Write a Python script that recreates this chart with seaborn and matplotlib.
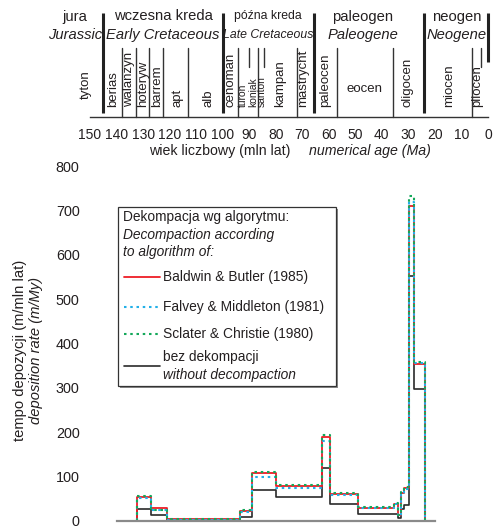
import numpy as np
import pandas as pd
import matplotlib
matplotlib.use("Agg")
import matplotlib.pyplot as plt
import seaborn as sns
from matplotlib.lines import Line2D
from matplotlib.patches import Rectangle

# ---------------- data ----------------
# step edges of deposition-rate intervals (Ma)
edges = [132.2, 127.0, 120.9, 93.5, 88.8, 79.9, 62.7, 59.5, 48.9, 35.4, 33.8, 32.9, 31.7, 29.8, 27.8, 23.7]
baldwin = [53, 30, 4, 22, 108, 78, 190, 60, 29, 39, 13, 63, 74, 709, 353]
falvey = [51, 25, 3, 21, 99, 74, 180, 59, 29, 38, 12, 60, 72, 720, 356]
sclater = [56, 25, 4, 24, 111, 81, 193, 63, 31, 41, 14, 66, 77, 733, 359]
nodecomp = [27, 13, 1, 8, 69, 54, 119, 38, 16, 16, 7, 28, 37, 552, 298]

series_names = ["Baldwin & Butler (1985)", "Falvey & Middleton (1981)",
                "Sclater & Christie (1980)"]

# geological time scale
period_bounds = [145.1, 100.0, 65.6, 24.0]
stage_bounds = [138.0, 132.8, 127.8, 122.4, 112.9, 94.2, 86.6, 72.1, 57.0, 35.9, 5.9]
stage_bounds_short = [89.9, 84.3, 2.7]
periods_pl = ["jura", "wczesna kreda", "późna kreda", "paleogen", "neogen"]
periods_en = ["Jurassic", "Early Cretaceous", "Late Cretaceous", "Paleogene", "Neogene"]
period_pos = [155.7, 122.5, 83.0, 47.1, 11.9]
stages = ["tyton", "berias", "walanżyn", "hoteryw", "barrem", "apt", "alb", "cenoman",
          "turon", "koniak", "santon", "kampan", "mastrycht", "paleocen", "oligocen",
          "miocen", "pliocen"]
stage_pos = [151.5, 141.3, 135.3, 130.0, 124.8, 117.2, 105.5, 97.2,
             92.2, 88.6, 85.3, 78.4, 69.7, 61.4, 30.2, 14.7, 4.1]
age_ticks = list(range(150, -1, -10))
rate_ticks = list(range(0, 801, 100))

# ---------------- style ----------------
sns.set_style("white")
plt.rcParams["font.family"] = ["Liberation Sans", "DejaVu Sans"]
TXT = "#231f20"
W, H = 493, 528


def fx(px):
    return px / W


def fy(py):
    return 1 - py / H


fig = plt.figure(figsize=(W / 100, H / 100), dpi=100)

# ---------------- top: time scale ----------------
axt = fig.add_axes([fx(90), fy(117), fx(488) - fx(90), fy(10) - fy(117)])
axt.set_xlim(150, 0)
axt.set_ylim(0, 107)  # units ~ pixels above the baseline
for s in ["top", "left", "right"]:
    axt.spines[s].set_visible(False)
axt.spines["bottom"].set_color("#333333")
axt.spines["bottom"].set_linewidth(1.0)
axt.set_yticks([])
axt.set_xticks(age_ticks)
axt.tick_params(axis="x", direction="out", length=6, width=1.0, color="#333333",
                pad=2.0, labelsize=10, labelcolor=TXT)
axt.set_facecolor("none")

for b in period_bounds:
    axt.plot([b, b], [4, 104], color="#222222", lw=2.2, solid_capstyle="butt", clip_on=False)
axt.plot([0, 0], [55, 104], color="#222222", lw=2.2, solid_capstyle="butt", clip_on=False)
for b in stage_bounds:
    axt.plot([b, b], [0, 69], color="#333333", lw=1.0, clip_on=False)
for b in stage_bounds_short:
    axt.plot([b, b], [50, 69], color="#333333", lw=1.0, clip_on=False)

for i, (pl, en, p) in enumerate(zip(periods_pl, periods_en, period_pos)):
    fs = 8.8 if i == 2 else 10.6
    axt.text(p, 100.5, pl, ha="center", va="center", fontsize=fs, color=TXT, clip_on=False)
    axt.text(p, 82, en, ha="center", va="center", fontsize=fs, style="italic",
             color=TXT, clip_on=False)

for s, p in zip(stages, stage_pos):
    small = s in ("turon", "koniak", "santon")
    yb = 18 if s == "tyton" else 10
    axt.text(p, yb, s, rotation=90, ha="center", va="bottom",
             fontsize=7.4 if small else 9.5, color=TXT, clip_on=False)
axt.text(46.7, 28, "eocen", ha="center", va="center", fontsize=9.5, color=TXT)

fig.text(fx(220), fy(151), "wiek liczbowy (mln lat)", ha="center", va="center",
         fontsize=10.2, color=TXT)
fig.text(fx(370), fy(151), "numerical age (Ma)", ha="center", va="center",
         fontsize=10.2, style="italic", color=TXT)

# ---------------- bottom: deposition rate ----------------
ax = fig.add_axes([fx(90), fy(521), fx(488) - fx(90), fy(166) - fy(521)])
ax.set_xlim(150, 0)
ax.set_ylim(0, 800)
ax.set_facecolor("none")


def stair(e, v):
    xs = [e[0]]
    ys = [0]
    for i, val in enumerate(v):
        xs += [e[i], e[i + 1]]
        ys += [val, val]
    xs.append(e[-1])
    ys.append(0)
    return pd.DataFrame({"age": xs, "rate": ys})


styles = [
    (nodecomp, "#2a2a2a", 1.2, "-"),
    (baldwin, "#ee1c25", 1.3, "-"),
    (falvey, "#22b0e8", 1.5, (0, (1.2, 1.8))),
    (sclater, "#14a85a", 1.5, (0, (1.2, 1.8))),
]
for vals, col, lw, ls in styles:
    d = stair(edges, vals)
    sns.lineplot(data=d, x="age", y="rate", sort=False, estimator=None, ax=ax,
                 color=col, lw=lw, linestyle=ls, legend=False)

for s in ["top", "left", "right"]:
    ax.spines[s].set_visible(False)
ax.spines["bottom"].set_color("#8a8a8a")
ax.spines["bottom"].set_linewidth(1.6)
ax.spines["bottom"].set_bounds(139.8, 20.0)
ax.set_xticks([])
ax.set_yticks(rate_ticks)
ax.set_yticklabels([f"{t}" for t in rate_ticks])
ax.tick_params(axis="y", direction="out", length=6, width=1.0, color="#333333",
               pad=1.5, labelsize=10.4, labelcolor=TXT)
ax.set_xlabel("")
ax.set_ylabel("")

fig.text(fx(20), fy(350), "tempo depozycji (m/mln lat)", rotation=90, ha="center",
         va="center", fontsize=10.6, color=TXT)
fig.text(fx(36), fy(350), "deposition rate (m/My)", rotation=90, ha="center",
         va="center", fontsize=10.6, style="italic", color=TXT)

# ---------------- legend box ----------------
lx0, lx1, ly0, ly1 = 118, 336, 207, 386
fig.add_artist(Rectangle((fx(lx0) + 2 / W, fy(ly1) - 2 / H), fx(lx1) - fx(lx0),
                         fy(ly0) - fy(ly1), transform=fig.transFigure,
                         facecolor="#8a8a8a", edgecolor="none"))
fig.add_artist(Rectangle((fx(lx0), fy(ly1)), fx(lx1) - fx(lx0), fy(ly0) - fy(ly1),
                         transform=fig.transFigure, facecolor="white",
                         edgecolor="#333333", lw=0.9))
LFS = 9.9
fig.text(fx(123), fy(217), "Dekompacja wg algorytmu:", ha="left", va="center",
         fontsize=LFS, color=TXT)
fig.text(fx(123), fy(235), "Decompaction according", ha="left", va="center",
         fontsize=LFS, style="italic", color=TXT)
fig.text(fx(123), fy(252), "to algorithm of:", ha="left", va="center",
         fontsize=LFS, style="italic", color=TXT)
leg_items = [
    (series_names[0], "#ee1c25", "-", 1.3, 277),
    (series_names[1], "#22b0e8", (0, (1.2, 1.8)), 1.5, 307),
    (series_names[2], "#14a85a", (0, (1.2, 1.8)), 1.5, 334),
]
for name, col, ls, lw, py in leg_items:
    fig.add_artist(Line2D([fx(124), fx(160)], [fy(py), fy(py)], transform=fig.transFigure,
                          color=col, linestyle=ls, lw=lw))
    fig.text(fx(163), fy(py), name, ha="left", va="center", fontsize=LFS, color=TXT)
fig.add_artist(Line2D([fx(124), fx(160)], [fy(366), fy(366)], transform=fig.transFigure,
                      color="#2a2a2a", lw=1.2))
fig.text(fx(163), fy(357), "bez dekompacji", ha="left", va="center", fontsize=LFS, color=TXT)
fig.text(fx(163), fy(375), "without decompaction", ha="left", va="center", fontsize=LFS,
         style="italic", color=TXT)

fig.savefig("out.png", dpi=100)
